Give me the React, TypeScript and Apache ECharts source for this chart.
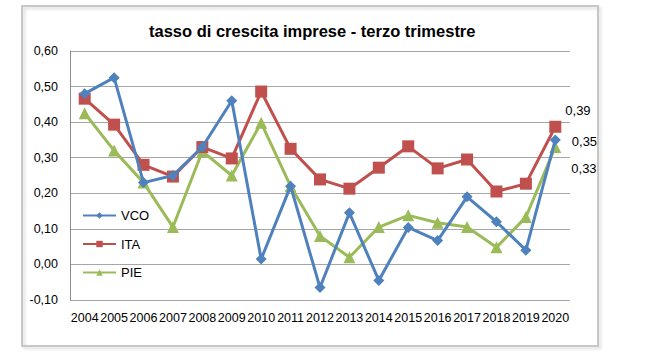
import React, { useEffect, useRef } from "react";
import * as echarts from "echarts";

const years = ["2004","2005","2006","2007","2008","2009","2010","2011","2012","2013","2014","2015","2016","2017","2018","2019","2020"];
const vco = [0.48, 0.525, 0.23, 0.25, 0.33, 0.46, 0.015, 0.22, -0.065, 0.145, -0.045, 0.104, 0.067, 0.19, 0.12, 0.04, 0.35];
const ita = [0.466, 0.393, 0.28, 0.247, 0.33, 0.298, 0.486, 0.325, 0.239, 0.213, 0.272, 0.332, 0.27, 0.295, 0.205, 0.227, 0.387];
const pie = [0.425, 0.32, 0.23, 0.105, 0.318, 0.25, 0.398, 0.22, 0.08, 0.02, 0.105, 0.138, 0.117, 0.105, 0.048, 0.133, 0.33];
const yTicks = { min: -0.1, max: 0.6, interval: 0.1 };

const fmt = (v: number) => v.toFixed(2).replace(".", ",");

export default function App() {
  const ref = useRef<HTMLDivElement>(null);
  useEffect(() => {
    if (!ref.current) return;
    const chart = echarts.init(ref.current, null, { renderer: "svg" });
    const font = "'Liberation Sans', sans-serif";
    const lastLabel = (offset: number[]) => ({
      show: true,
      position: "right",
      offset,
      formatter: (p: any) => (p.dataIndex === years.length - 1 ? fmt(p.value) : ""),
      color: "#000",
      fontFamily: font,
      fontSize: 13,
    });
    const mk = (name: string, data: number[], color: string, symbol: string, size: number, off: number[]) => ({
      name,
      type: "line",
      data,
      symbol,
      symbolSize: size,
      showAllSymbol: true,
      lineStyle: { color, width: 3 },
      itemStyle: { color },
      label: lastLabel(off),
      z: name === "VCO" ? 4 : name === "ITA" ? 3 : 2,
    });
    chart.setOption({
      animation: false,
      backgroundColor: "#fff",
      title: {
        text: "tasso di crescita imprese - terzo trimestre",
        left: 144,
        top: 17,
        textStyle: { fontFamily: font, fontWeight: "bold", fontSize: 16.5, color: "#000" },
      },
      graphic: [
        {
          type: "rect",
          shape: { x: 22, y: 6, width: 576, height: 340 },
          style: { fill: "none", stroke: "#b8b8b8", lineWidth: 1.5, shadowBlur: 3, shadowOffsetX: 2, shadowOffsetY: 2, shadowColor: "rgba(0,0,0,0.2)" },
          z: -1,
        },
      ],
      legend: {
        orient: "vertical",
        left: 77,
        top: 204,
        itemWidth: 33,
        itemHeight: 8,
        itemGap: 15.5,
        textStyle: { fontFamily: font, fontSize: 13, color: "#000" },
        data: ["VCO", "ITA", "PIE"],
      },
      grid: { left: 70, right: 80, top: 51, bottom: 54 },
      xAxis: {
        type: "category",
        data: years,
        boundaryGap: true,
        axisLine: { show: false },
        axisTick: { show: false },
        axisLabel: { interval: 0, color: "#000", fontFamily: font, fontSize: 12.5, margin: 11 },
      },
      yAxis: {
        type: "value",
        min: yTicks.min,
        max: yTicks.max,
        interval: yTicks.interval,
        axisLine: { show: true, lineStyle: { color: "#8c8c8c" } },
        axisTick: { show: false },
        splitLine: { lineStyle: { color: "#a6a6a6", width: 1.2 } },
        axisLabel: { formatter: (v: number) => fmt(v), color: "#000", fontFamily: font, fontSize: 12.5, margin: 12 },
      },
      series: [
        mk("VCO", vco, "#4f81bd", "diamond", 11, [6, 2]),
        mk("ITA", ita, "#c0504d", "rect", 12, [-1, -16]),
        mk("PIE", pie, "#9bbb59", "triangle", 12, [5, 21]),
      ],
    });
    return () => chart.dispose();
  }, []);
  return <div ref={ref} style={{ position: "fixed", left: 0, top: 0, width: 650, height: 354 }} />;
}
